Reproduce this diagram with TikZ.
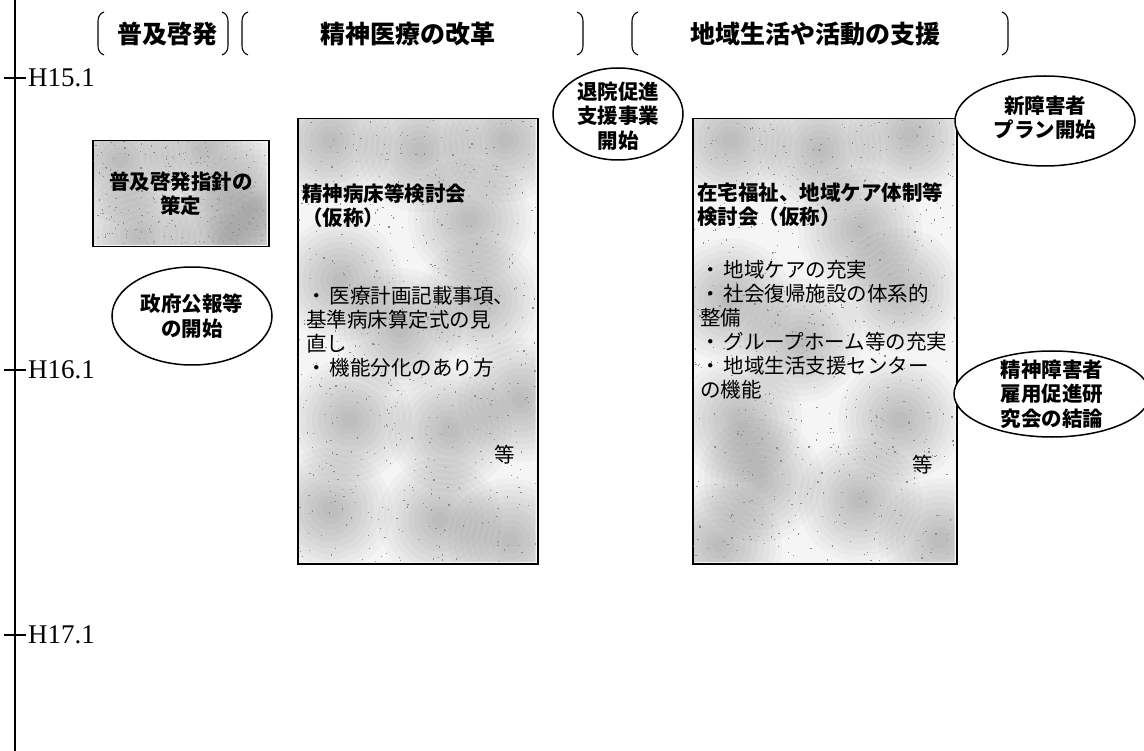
\documentclass[tikz,border=0pt]{standalone}
\usepackage{fontspec}
\setmainfont{Liberation Serif}
\newfontfamily\jp{Noto Sans CJK JP}
\usetikzlibrary{shapes.geometric}
\newcommand\speckle[5]{%
  \foreach \k in {1,...,#5}{%
    \pgfmathsetmacro\px{#1+rnd*(#3-#1)}%
    \pgfmathsetmacro\py{#2+rnd*(#4-#2)}%
    \fill[black!45] (\px,\py) rectangle ++(1.2,1.2);
  }}
\newcommand\cloud[2]{%
  \foreach \r in {62,56,...,8}{\fill[black,fill opacity=0.022] (#1,#2) circle (\r);}}
\begin{document}
\begin{tikzpicture}[x=1pt,y=-1pt,
  axisline/.style={line width=1.4pt},
  tlabel/.style={font=\fontsize{27}{30}\selectfont, anchor=west, inner sep=0pt},
  hdr/.style={font=\jp\bfseries\fontsize{25}{28}\selectfont, inner sep=0pt},
  brk/.style={line width=1.1pt},
  panel/.style={draw, line width=1.5pt, fill=black!4, anchor=north west, inner sep=0pt},
  oval/.style={ellipse, draw, line width=1.5pt, fill=white, inner sep=0pt},
  ovaltext/.style={font=\jp\bfseries\fontsize{20.5}{24.5}\selectfont, align=center, inner sep=0pt},
  btitle/.style={font=\jp\bfseries\fontsize{20.5}{24}\selectfont, align=left, anchor=north west, inner sep=0pt},
  btext/.style={font=\jp\fontsize{20.5}{24}\selectfont, align=left, anchor=north west, inner sep=0pt},
  etc/.style={font=\jp\fontsize{20.5}{24}\selectfont, inner sep=0pt}
]
\pgfmathsetseed{7}
\useasboundingbox (0,0) rectangle (1144,751);
\fill[white] (0,0) rectangle (1144,751);

% timeline
\coordinate (top) at (15,0);
\coordinate (bot) at (15,751);
\draw[axisline] (top) -- (bot);
\foreach \y/\t [count=\i] in {78/H15.1, 370/H16.1, 635/H17.1}{
  \coordinate (tl\i) at (4,\y);
  \coordinate (tr\i) at (26,\y);
  \draw[axisline] (tl\i) -- (tr\i);
  \node[tlabel] (lab\i) at (28,\y) {\t};
}

% headers with brackets
\node[hdr] (h1) at (167,34) {普及啓発};
\node[hdr] (h2) at (408,34) {精神医療の改革};
\node[hdr] (h3) at (815,34) {地域生活や活動の支援};
\foreach \x in {98,242,632}{
  \draw[brk] (\x+6,12) to[out=200,in=90] (\x,21) -- (\x,46) to[out=-90,in=160] (\x+6,55);
}
\foreach \x in {228,583,1008}{
  \draw[brk] (\x-6,12) to[out=-20,in=90] (\x,21) -- (\x,46) to[out=-90,in=20] (\x-6,55);
}

% small box
\node[panel, minimum width=176pt, minimum height=106pt] (b0) at (92,140) {};
\begin{scope}
  \clip (93.5,141.5) rectangle (266.5,244.5);
  \foreach \cx/\cy in {120/160, 205/150, 255/205, 140/235, 225/240}{\cloud{\cx}{\cy}}
  \speckle{92}{140}{268}{246}{220}
\end{scope}
\node[ovaltext] (b0t) at (b0.center) {普及啓発指針の\\策定};

% big panels
\node[panel, minimum width=240pt, minimum height=445pt] (p1) at (297,118) {};
\node[panel, minimum width=264pt, minimum height=445pt] (p2) at (692,118) {};
\begin{scope}
  \clip (298.5,119.5) rectangle (535.5,561.5);
  \foreach \cx/\cy in {330/140, 420/150, 505/140, 470/220, 340/280, 480/300, 400/330, 350/420, 450/430, 520/400, 330/510, 440/520, 510/540}{\cloud{\cx}{\cy}}
  \speckle{297}{118}{537}{563}{550}
\end{scope}
\begin{scope}
  \clip (693.5,119.5) rectangle (954.5,561.5);
  \foreach \cx/\cy in {730/140, 820/150, 910/135, 860/230, 730/300, 900/290, 800/340, 740/420, 900/420, 760/480, 860/500, 940/540, 720/545}{\cloud{\cx}{\cy}}
  \speckle{692}{118}{956}{563}{600}
\end{scope}

\node[btitle] (p1t) at (302,184) {精神病床等検討会\\（仮称）};
\node[btext] (p1b) at (306,286) {・\hspace{3pt}医療計画記載事項、\\基準病床算定式の見\\直し\\・\hspace{3pt}機能分化のあり方};
\node[etc] (p1e) at (505,455) {等};

\node[btitle] (p2t) at (697,183) {在宅福祉、地域ケア体制等\\検討会（仮称）};
\node[btext] (p2b) at (700,260) {・\hspace{3pt}地域ケアの充実\\・\hspace{3pt}社会復帰施設の体系的\\整備\\・\hspace{3pt}グループホーム等の充実\\・\hspace{3pt}地域生活支援センター\\の機能};
\node[etc] (p2e) at (923,465) {等};

% ellipses
\node[oval, minimum width=160pt, minimum height=98pt] (e1) at (192,316) {};
\node[ovaltext] (e1t) at (e1.center) {政府公報等\\の開始};

\node[oval, minimum width=130pt, minimum height=92pt] (e2) at (618,114) {};
\node[ovaltext] (e2t) at ([yshift=-2pt]e2.center) {退院促進\\支援事業\\開始};

\node[oval, minimum width=180pt, minimum height=90pt] (e3) at (1045,121) {};
\node[ovaltext] (e3t) at ([yshift=3pt]e3.center) {新障害者\\プラン開始};

\node[oval, minimum width=196pt, minimum height=86pt] (e4) at (1052,394) {};
\node[ovaltext] (e4t) at (e4.center) {精神障害者\\雇用促進研\\究会の結論};
\end{tikzpicture}
\end{document}
